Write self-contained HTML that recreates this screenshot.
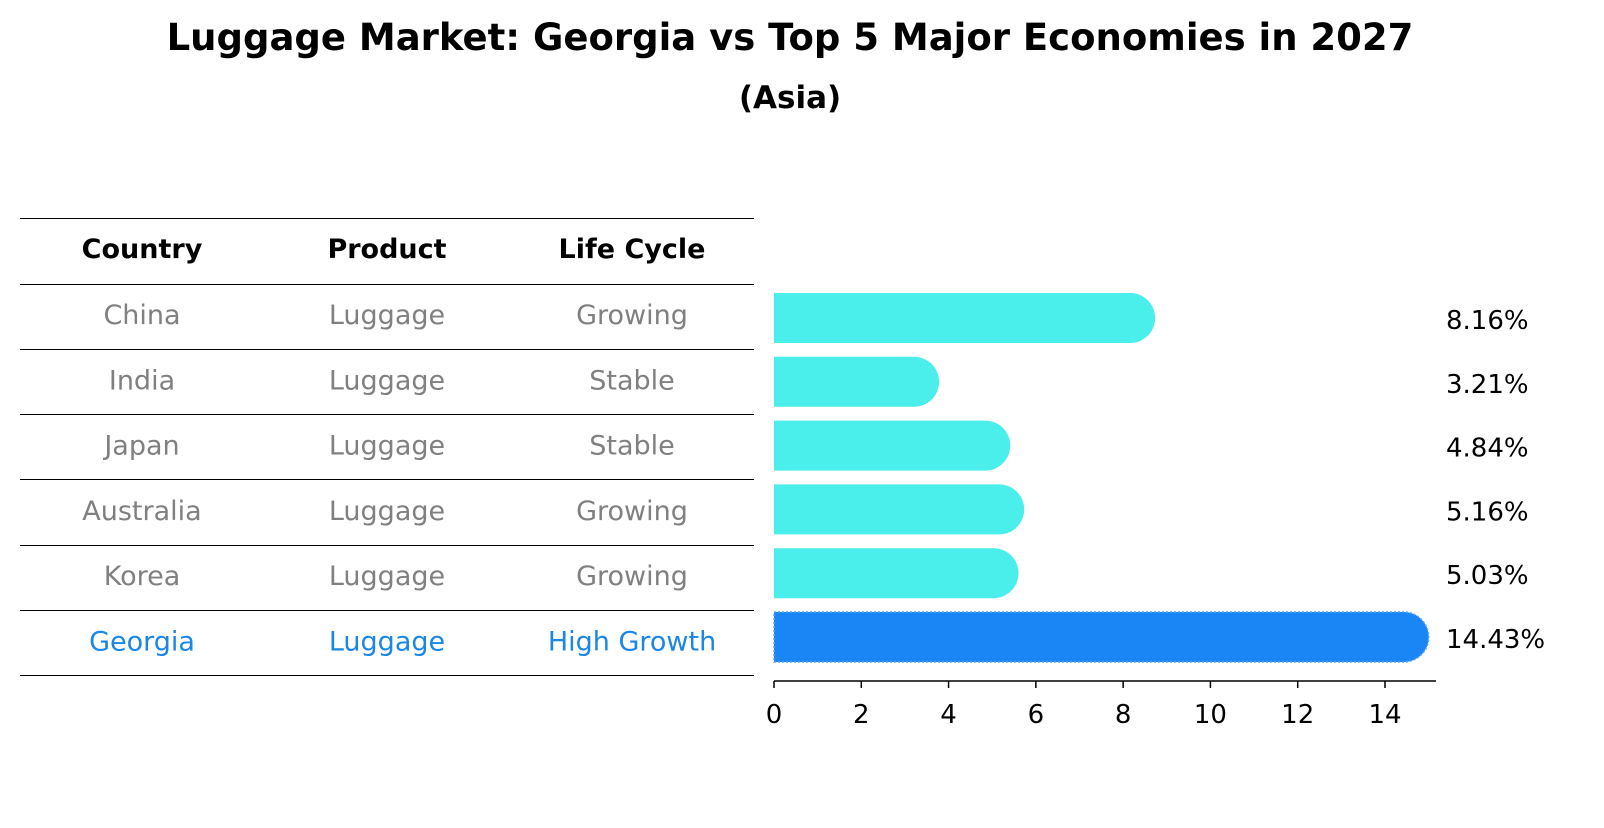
<!DOCTYPE html>
<html><head><meta charset="utf-8"><style>
body{margin:0;background:#fff;font-family:"Liberation Sans","DejaVu Sans",sans-serif;}
</style></head><body>
<svg width="1604" height="823" xmlns="http://www.w3.org/2000/svg" font-family="DejaVu Sans, Liberation Sans, sans-serif">
<text x="790" y="50" text-anchor="middle" font-size="37" font-weight="bold">Luggage Market: Georgia vs Top 5 Major Economies in 2027</text>
<text x="790" y="108" text-anchor="middle" font-size="31" font-weight="bold">(Asia)</text>
<g id="table"></g>
<g id="bars"></g>
</svg>
<script>
const countries=["China","India","Japan","Australia","Korea","Georgia"];
const products=["Luggage","Luggage","Luggage","Luggage","Luggage","Luggage"];
const lifeCycles=["Growing","Stable","Stable","Growing","Growing","High Growth"];
const values=[8.16,3.21,4.84,5.16,5.03,14.43];
const valueLabels=["8.16%","3.21%","4.84%","5.16%","5.03%","14.43%"];
const ticks=[0,2,4,6,8,10,12,14];
const NS="http://www.w3.org/2000/svg";
function mk(tag,attrs,parent){const e=document.createElementNS(NS,tag);for(const k in attrs)e.setAttribute(k,attrs[k]);parent.appendChild(e);return e;}
const tbl=document.getElementById('table'),bars=document.getElementById('bars');
const rowY=i=>315+i*65.3;
const colX=[142,387,632];
const lineYs=[218,284,349,414,479,545,610,675];
lineYs.forEach((y,i)=>{const l=mk('line',{x1:20,x2:754,y1:y+0.5,y2:y+0.5,stroke:'#000','stroke-width':1},tbl);

});
["Country","Product","Life Cycle"].forEach((h,j)=>{const t=mk('text',{x:colX[j],y:258,'text-anchor':'middle','font-size':27,'font-weight':'bold'},tbl);t.textContent=h;

});
countries.forEach((c,i)=>{const col=i===countries.length-1?'#1a86e6':'#808080';
[c,products[i],lifeCycles[i]].forEach((v,j)=>{const t=mk('text',{x:colX[j],y:rowY(i)+9,'text-anchor':'middle','font-size':27,fill:col},tbl);t.textContent=v;

});});
const x0=774,ux=611/14;const xs=v=>x0+v*ux;
const barY=i=>318+i*63.8;const h=50,r=25;
values.forEach((v,i)=>{const cy=barY(i),xe=xs(v);const g=i===values.length-1;
const p=mk('path',{d:`M${x0},${cy-h/2} H${xe} A${r},${r} 0 0 1 ${xe},${cy+h/2} H${x0} Z`,fill:g?'#1a86f5':'#4aeeea'},bars);
if(g){p.setAttribute('stroke','#5aa8f5');p.setAttribute('stroke-dasharray','2,2');p.setAttribute('stroke-width','1.5');}


const t=mk('text',{x:1446,y:cy+11,'font-size':26},bars);t.textContent=valueLabels[i];

});
const ax=mk('line',{x1:x0,x2:1436,y1:681,y2:681,stroke:'#000','stroke-width':1.5},bars);


ticks.forEach(tk=>{const l=mk('line',{x1:xs(tk),x2:xs(tk),y1:681,y2:688,stroke:'#000','stroke-width':1.5},bars);


const t=mk('text',{x:xs(tk),y:723,'text-anchor':'middle','font-size':26},bars);t.textContent=tk;

});
</script>
</body></html>
